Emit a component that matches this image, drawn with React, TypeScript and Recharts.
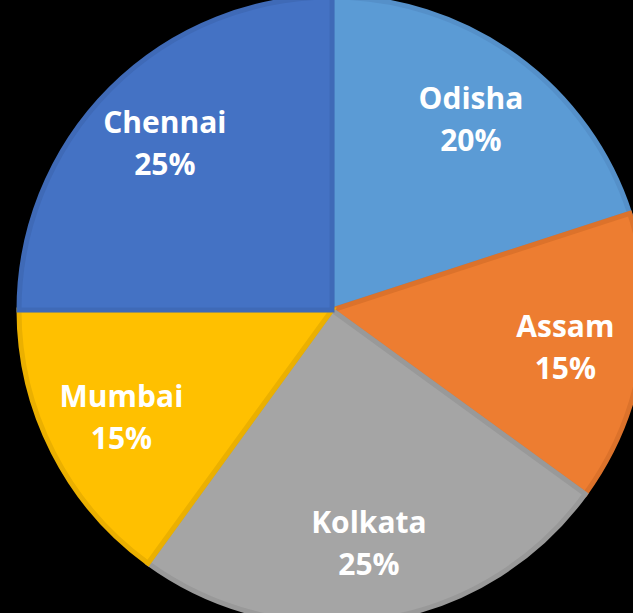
import { PieChart, Pie, Cell } from 'recharts';

// slice order clockwise from 12 o'clock
const cities = ['Odisha', 'Assam', 'Kolkata', 'Mumbai', 'Chennai'];
const shares = [20, 15, 25, 15, 25];

const fills = ['#5B9BD5', '#ED7D31', '#A5A5A5', '#FFC000', '#4472C4'];
const edges = ['#5590C9', '#DC722B', '#999999', '#EBB000', '#3F6AB7'];

const RAD = Math.PI / 180;

function renderLabel(props: any) {
  const { cx, cy, midAngle, outerRadius, percent, name } = props;
  const r = outerRadius * 0.755;
  const x = cx + r * Math.cos(-midAngle * RAD);
  const y = cy + r * Math.sin(-midAngle * RAD);
  const textStyle = {
    fill: '#FFFFFF',
    fontFamily: '"Open Sans", sans-serif',
    fontWeight: 700,
    fontSize: 30,
  };
  return (
    <g>
      <text x={x} y={y - 10} textAnchor="middle" style={textStyle}>
        {name}
      </text>
      <text x={x} y={y + 32} textAnchor="middle" style={textStyle}>
        {`${Math.round(percent * 100)}%`}
      </text>
    </g>
  );
}

export default function App() {
  const data = cities.map((name, i) => ({ name, value: shares[i] }));

  return (
    <div
      style={{
        position: 'fixed',
        left: 0,
        top: 0,
        width: 633,
        height: 613,
        background: '#000000',
        overflow: 'hidden',
      }}
    >
      <PieChart width={633} height={613} margin={{ top: 0, right: 0, bottom: 0, left: 0 }}>
        <Pie
          data={data}
          dataKey="value"
          nameKey="name"
          cx={332}
          cy={310}
          outerRadius={313}
          startAngle={90}
          endAngle={-270}
          stroke="none"
          labelLine={false}
          label={renderLabel}
          isAnimationActive={false}
        >
          {data.map((d, i) => (
            <Cell key={d.name} fill={fills[i]} stroke={edges[i]} strokeWidth={5} />
          ))}
        </Pie>
      </PieChart>
    </div>
  );
}
